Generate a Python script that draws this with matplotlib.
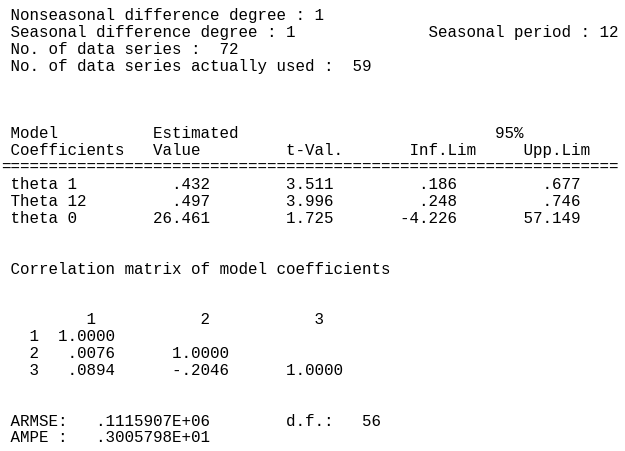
import numpy as np
import matplotlib
matplotlib.use('Agg')
import matplotlib.pyplot as plt

# model settings
nonseasonal_diff = 1
seasonal_diff = 1
seasonal_period = 12
n_series = 72
n_used = 59

# coefficient table
coef_names = ['theta 1', 'Theta 12', 'theta 0']
estimates = [0.432, 0.497, 26.461]
t_vals = [3.511, 3.996, 1.725]
inf_lims = [0.186, 0.248, -4.226]
upp_lims = [0.677, 0.746, 57.149]

# lower triangle of the correlation matrix
corr_rows = [[1.0], [0.0076, 1.0], [0.0894, -0.2046, 1.0]]

armse = 111590.7
ampe = 3.005798
dof = 56


def fnum(v, nd):
    # fortran style, no leading zero
    s = f'{v:.{nd}f}'
    return s.replace('0.', '.', 1) if abs(v) < 1 else s


def fexp(v, nd=7):
    e = int(np.floor(np.log10(abs(v)))) + 1
    return fnum(v / 10.0**e, nd) + f'E{e:+03d}'


def put(buf, col, txt):
    buf[col:col + len(txt)] = list(txt)


def rput(buf, end, txt):
    put(buf, end - len(txt), txt)


lines = {}


def new_line(i):
    lines[i] = [' '] * 70
    return lines[i]


b = new_line(0)
put(b, 1, f'Nonseasonal difference degree : {nonseasonal_diff}')
b = new_line(1)
put(b, 1, f'Seasonal difference degree : {seasonal_diff}')
put(b, 45, f'Seasonal period : {seasonal_period}')
b = new_line(2)
put(b, 1, f'No. of data series :  {n_series}')
b = new_line(3)
put(b, 1, f'No. of data series actually used :  {n_used}')

b = new_line(7)
put(b, 1, 'Model')
put(b, 16, 'Estimated')
put(b, 52, '95%')
b = new_line(8)
put(b, 1, 'Coefficients')
put(b, 16, 'Value')
put(b, 30, 't-Val.')
put(b, 43, 'Inf.Lim')
put(b, 55, 'Upp.Lim')
lines[9] = list('=' * 65)

for k, name in enumerate(coef_names):
    b = new_line(10 + k)
    put(b, 1, name)
    rput(b, 22, fnum(estimates[k], 3))
    rput(b, 35, fnum(t_vals[k], 3))
    rput(b, 48, fnum(inf_lims[k], 3))
    rput(b, 61, fnum(upp_lims[k], 3))

b = new_line(15)
put(b, 1, 'Correlation matrix of model coefficients')
b = new_line(18)
for j in range(len(corr_rows)):
    put(b, 9 + 12 * j, str(j + 1))
for i, row in enumerate(corr_rows):
    b = new_line(19 + i)
    put(b, 3, str(i + 1))
    for j, v in enumerate(row):
        rput(b, 12 + 12 * j, fnum(v, 4))

b = new_line(24)
put(b, 1, 'ARMSE:')
put(b, 10, fexp(armse))
put(b, 30, 'd.f.:')
put(b, 38, str(dof))
b = new_line(25)
put(b, 1, 'AMPE :')
put(b, 10, fexp(ampe))

W, H = 625, 451
fig = plt.figure(figsize=(W / 100, H / 100), dpi=100)
fig.patch.set_facecolor('white')

x0 = 0.95      # px, left edge of column 0
y0 = 20.0      # px, baseline of first line
dy = 16.9      # px, line spacing
for i, buf in lines.items():
    fig.text(x0 / W, 1 - (y0 + i * dy) / H, ''.join(buf).rstrip(),
             family='Liberation Mono', fontsize=11.45, color='black',
             ha='left', va='baseline')

fig.savefig('out.png', dpi=100)
